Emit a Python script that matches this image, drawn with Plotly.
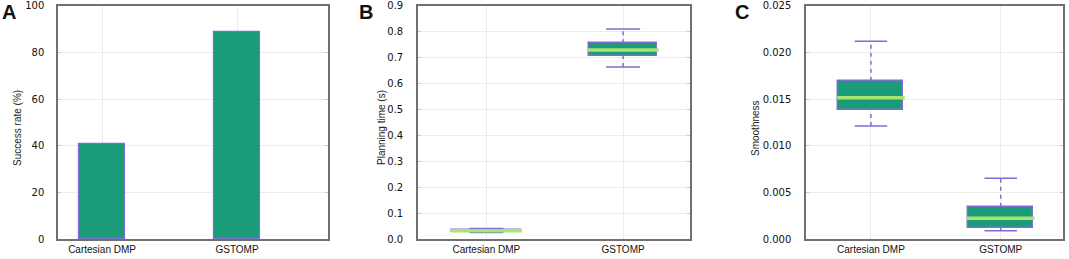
import plotly.graph_objects as go

# data
methods = ["Cartesian DMP", "GSTOMP"]
success_rate = [41, 89]

# planning time (s): box stats per method
time_low = [0.025, 0.664]
time_q1 = [0.029, 0.707]
time_med = [0.032, 0.730]
time_q3 = [0.036, 0.756]
time_high = [0.041, 0.811]

# smoothness: box stats per method
sm_low = [0.01212, 0.00089]
sm_q1 = [0.01388, 0.00118]
sm_med = [0.01516, 0.00222]
sm_q3 = [0.01699, 0.00347]
sm_high = [0.02121, 0.00651]

GREEN = "#1b9c78"
PURPLE = "#7b6fd4"
MEDIAN = "#a8e56e"
AXIS = "#707070"
GRID = "#ececec"

fig = go.Figure()

# panel A bars
fig.add_trace(go.Bar(x=[0, 1], y=success_rate, width=0.34, marker=dict(color=GREEN, line=dict(color=PURPLE, width=1.2)),
                     xaxis="x", yaxis="y", showlegend=False))


def add_boxes(low, q1, med, q3, high, xa, ya):
    xs = list(range(len(q1)))
    # box bodies
    fig.add_trace(go.Bar(x=xs, y=[b - a for a, b in zip(q1, q3)], base=q1, width=0.5,
                         marker=dict(color=GREEN, line=dict(color=PURPLE, width=1.5)),
                         xaxis=xa, yaxis=ya, showlegend=False))
    # dashed whiskers
    wx, wy = [], []
    for i in xs:
        wx += [i, i, None, i, i, None]
        wy += [q3[i], high[i], None, low[i], q1[i], None]
    fig.add_trace(go.Scatter(x=wx, y=wy, mode="lines", line=dict(color=PURPLE, width=1.5, dash="4px,4px"),
                             xaxis=xa, yaxis=ya, showlegend=False))
    # whisker caps
    cx, cy = [], []
    for i in xs:
        cx += [i - 0.125, i + 0.125, None, i - 0.125, i + 0.125, None]
        cy += [high[i], high[i], None, low[i], low[i], None]
    fig.add_trace(go.Scatter(x=cx, y=cy, mode="lines", line=dict(color=PURPLE, width=1.5),
                             xaxis=xa, yaxis=ya, showlegend=False))
    # medians
    mx, my = [], []
    for i in xs:
        mx += [i - 0.26, i + 0.26, None]
        my += [med[i], med[i], None]
    fig.add_trace(go.Scatter(x=mx, y=my, mode="lines", line=dict(color=MEDIAN, width=3.5),
                             xaxis=xa, yaxis=ya, showlegend=False))


add_boxes(time_low, time_q1, time_med, time_q3, time_high, "x2", "y2")
add_boxes(sm_low, sm_q1, sm_med, sm_q3, sm_high, "x3", "y3")

ydom = [0.077, 0.977]
tickfont_x = dict(family="Liberation Sans", size=10, color="#111")
tickfont_y = dict(family="DejaVu Sans", size=10, color="#111")


def xaxis(dom, rng, anchor):
    return dict(domain=dom, anchor=anchor, range=rng, tickvals=[0, 1], ticktext=methods, showline=True, mirror=True,
                linecolor=AXIS, linewidth=1.5, showgrid=True, gridcolor=GRID, zeroline=False, automargin=False,
                ticks="", tickfont=tickfont_x, fixedrange=True)


def yaxis(anchor, rng, dtick, fmt, standoff):
    return dict(domain=ydom, anchor=anchor, range=rng, dtick=dtick, tickformat=fmt, showline=True, mirror="ticks",
                linecolor=AXIS, linewidth=1.5, showgrid=True, gridcolor=GRID, zeroline=False, automargin=False,
                ticks="inside", ticklen=3, tickcolor="#c8c8c8", tickfont=tickfont_y, ticklabelstandoff=standoff,
                fixedrange=True)


fig.update_layout(
    width=1069, height=259, autosize=False,
    margin=dict(l=0, r=0, t=0, b=0, pad=0),
    paper_bgcolor="white", plot_bgcolor="white",
    bargap=0,
    xaxis=xaxis([0.0543, 0.3068], [-0.326, 1.674], "y"),
    yaxis=yaxis("x", [0, 100], 20, "d", 10),
    xaxis2=xaxis([0.391, 0.6455], [-0.5, 1.49], "y2"),
    yaxis2=yaxis("x2", [0, 0.9], 0.1, ".1f", 11),
    xaxis3=xaxis([0.754, 0.9944], [-0.5, 1.48], "y3"),
    yaxis3=yaxis("x3", [0, 0.025], 0.005, ".3f", 11),
    barmode="overlay",
)

# panel letters and y titles
for lx, letter in [(9, "A"), (366, "B"), (742, "C")]:
    fig.add_annotation(x=lx / 1069, y=1 - 12 / 259, xref="paper", yref="paper", text="<b>%s</b>" % letter,
                       xanchor="center", yanchor="middle",
                       showarrow=False, font=dict(family="Liberation Sans", size=20, color="#111"))
for tx, title in [(17, "Success rate (%)"), (381, "Planning time (s)"), (755, "Smoothness")]:
    fig.add_annotation(x=tx / 1069, y=1 - 128 / 259, xref="paper", yref="paper", text=title, textangle=-90,
                       xanchor="center", yanchor="middle",
                       showarrow=False, font=dict(family="Liberation Sans", size=10, color="#222"))

# drop the default page margin so the figure sits at the window origin
fig.write_html("out.html", config={"displayModeBar": False, "responsive": False},
               post_script="document.body.style.margin='0';")
